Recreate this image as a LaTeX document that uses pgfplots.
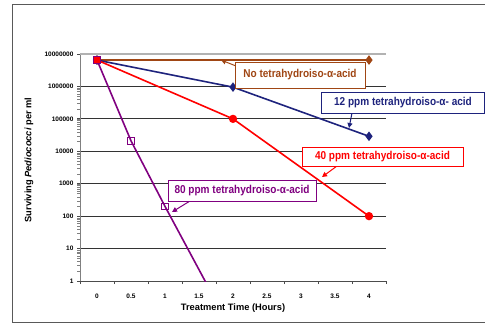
\documentclass[border=0pt]{standalone}
\usepackage{pgfplots}
\pgfplotsset{compat=1.18}
\usepackage{fontspec}
\setmainfont{Liberation Sans}
\newfontfamily\callout{Liberation Sans}[FakeStretch=0.88]
\usetikzlibrary{arrows.meta}
\definecolor{brownc}{RGB}{160,70,20}
\definecolor{bluec}{RGB}{30,35,125}
\definecolor{redc}{RGB}{255,0,0}
\definecolor{purplec}{RGB}{128,0,128}
\begin{document}
\begin{tikzpicture}
\useasboundingbox (0pt,0pt) rectangle (485pt,-324pt);
\draw[black!65, line width=1pt] (12pt,-4pt) rectangle (500pt,-322pt);
\begin{axis}[
  at={(80pt,-281pt)}, anchor=south west,
  scale only axis, width=306pt, height=227pt,
  xmin=-0.25, xmax=4.25,
  ymode=log, ymin=1, ymax=1e7,
  axis lines=left,
  axis line style={-},
  x axis line style={black!70, line width=0.9pt},
  y axis line style={black!50, line width=0.9pt},
  xtick={0,0.5,1,1.5,2,2.5,3,3.5,4},
  xticklabels={0,0.5,1,1.5,2,2.5,3,3.5,4},
  major x tick style={draw=none},
  minor xtick={-0.25,0.25,0.75,1.25,1.75,2.25,2.75,3.25,3.75,4.25},
  minor x tick style={black!70, line width=0.8pt},
  minor tick length=3pt,
  tick align=outside,
  ytick={1,10,100,1000,10000,100000,1000000},
  yticklabels={1,10,100,1000,10000,100000,1000000},
  extra y ticks={10000000},
  extra y tick labels={10000000},
  extra y tick style={grid style={black!30, line width=1.3pt}},
  major y tick style={black!70, line width=0.8pt},
  major tick length=3pt,
  ymajorgrids,
  grid style={black!80, line width=0.9pt},
  /pgf/number format/assume math mode=true,
  tick label style={font=\bfseries\fontsize{6.5}{7}\selectfont},
  xticklabel style={yshift=-6pt},
  xlabel={\bfseries Treatment Time (Hours)},
  xlabel style={at={(axis description cs:0.5,0)}, anchor=center, yshift=-27pt, font=\fontsize{9.3}{11}\selectfont},
  ylabel={\bfseries Surviving \textit{Pediococci} per ml},
  ylabel style={at={(axis description cs:-0.1667,0.533)}, anchor=center, font=\fontsize{9.3}{11}\selectfont},
  clip=true,
]
\addplot[brownc, line width=1.6pt, mark=diamond*, mark size=3.5pt, mark options={solid, fill=brownc}] coordinates {(0,6.5e6) (4,6.5e6)};
\addplot[bluec, line width=1.6pt, mark=diamond*, mark size=3.5pt, mark options={solid, fill=bluec}] coordinates {(0,6.5e6) (2,9.5e5) (4,2.9e4)};
\addplot[redc, line width=1.6pt, mark=*, mark size=3.3pt, mark options={solid, fill=redc}] coordinates {(0,6.5e6) (2,1e5) (4,100)};
\addplot[purplec, line width=1.6pt, no marks] coordinates {(0,6.5e6) (0.5,2.1e4) (1,200) (2,0.025)};
\addplot[purplec, only marks, mark=square, mark size=3.3pt, mark options={line width=0.9pt}] coordinates {(0,6.5e6) (0.5,2.1e4) (1,200)};
\end{axis}
\begin{scope}[x=1pt, y=-1pt, font=\callout\bfseries\fontsize{11.4}{13}\selectfont]
\draw[brownc, line width=1pt, -{Triangle[length=5pt,width=5pt]}] (236,66) -- (221,60);
\draw[brownc, line width=1pt, fill=white] (235,62) rectangle (365,88);
\node[brownc] at (300,75) {No tetrahydroiso-α-acid};
\draw[bluec, line width=1pt, -{Triangle[length=5pt,width=5pt]}] (352,113) -- (349,128);
\draw[bluec, line width=1pt, fill=white] (321,92) rectangle (484,113);
\node[bluec] at (403,102.5) {12 ppm tetrahydroiso-α- acid};
\draw[redc, line width=1pt, -{Triangle[length=5pt,width=5pt]}] (337,166) -- (322,177);
\draw[redc, line width=1pt, fill=white] (302,147) rectangle (463,166);
\node[redc] at (382.5,156.5) {40 ppm tetrahydroiso-α-acid};
\draw[purplec, line width=1pt, -{Triangle[length=5pt,width=5pt]}] (190,201) -- (172,212);
\draw[purplec, line width=1pt, fill=white] (168,180) rectangle (316,201);
\node[purplec] at (242,190.5) {80 ppm tetrahydroiso-α-acid};
\end{scope}
\end{tikzpicture}
\end{document}
